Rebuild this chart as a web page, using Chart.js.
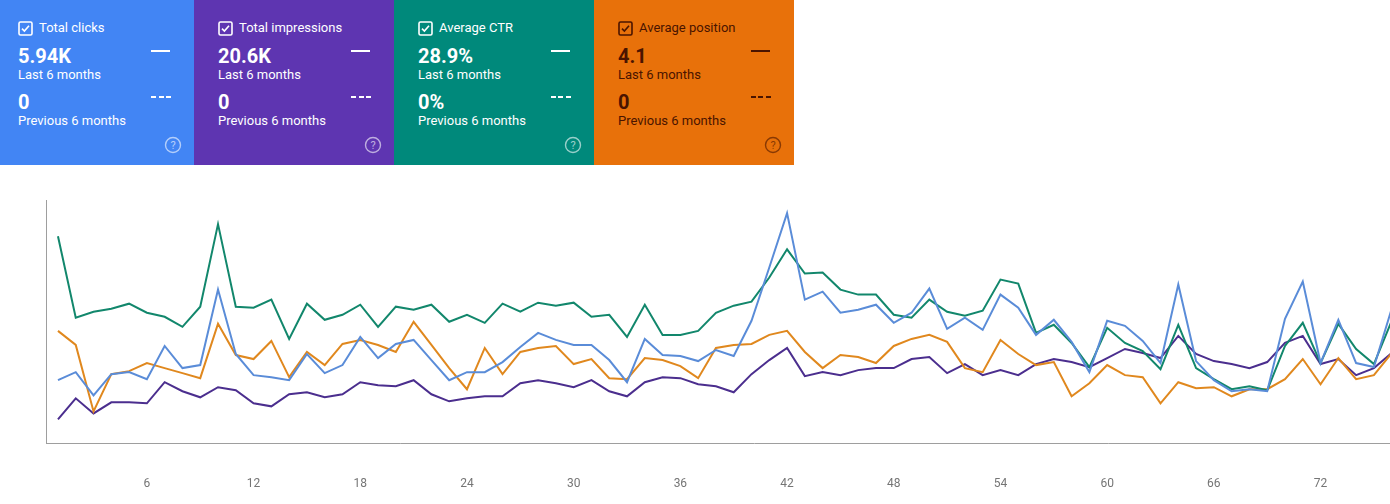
<!DOCTYPE html>
<html>
<head>
    <title>Performance</title>
    <script src="https://cdn.jsdelivr.net/npm/chart.js"></script>
    <style>
        body {
            margin: 0;
            width: 1390px;
            height: 504px;
            overflow: hidden;
            background: #fff;
            font-family: Roboto, Arial, sans-serif;
            position: relative;
        }
        .card {
            position: absolute;
            top: 0;
            width: 200px;
            height: 165px;
            color: #fff;
        }
        .card .title {
            position: absolute;
            left: 24px;
            top: 20px;
            font-size: 13px;
            line-height: 16px;
            display: flex;
            align-items: center;
            gap: 6px;
        }
        .card .title svg { display: block; }
        .card .big {
            position: absolute;
            left: 24px;
            font-size: 20px;
            font-weight: 700;
            line-height: 20px;
        }
        .card .small {
            position: absolute;
            left: 24px;
            font-size: 13px;
            line-height: 16px;
        }
        .card .solid {
            position: absolute;
            left: 157px;
            top: 50px;
            width: 19px;
            border-top: 2px solid currentColor;
        }
        .card .dashed {
            position: absolute;
            left: 157px;
            top: 96px;
            width: 20px;
            height: 2px;
            background: repeating-linear-gradient(to right, currentColor 0 5px, transparent 5px 7.5px);
        }
        .card .help {
            position: absolute;
            left: 170px;
            top: 136px;
            opacity: 0.6;
        }
        #wrap {
            position: absolute;
            left: 0;
            top: 180px;
            width: 1467px;
            height: 358px;
        }
    </style>
</head>
<body>
    <div id="cards"></div>
    <div id="wrap"><canvas id="perf"></canvas></div>
    <script>
        // days shown on the x axis
        var days = [];
        for (var d = 1; d <= 76; d++) days.push(d);
        var tickLabels = [6, 12, 18, 24, 30, 36, 42, 48, 54, 60, 66, 72, 78];

        // relative heights (no y scale is shown)
        var clicks = [63,71,48,69,71,64,97,75,78,153, 89,68,66,63,89,70,78,106,85,99,
            103,83,63,71,71,81,96,110,103,98, 98,83,61,104,88,87,82,93,87,122,
            175,229,143,151,130,133,138,120,130,154, 114,125,113,148,135,108,123,101,71,122,
            117,102,80,158,82,63,52,54,52,124, 161,80,123,80,76,134];
        var impressions = [24,45,30,41,41,40,61,52,46,56, 53,40,37,49,51,46,49,61,58,57,
            63,49,42,45,47,47,60,63,60,56, 63,52,47,61,66,65,59,57,51,69,
            83,95,67,71,68,73,75,75,84,86, 70,79,68,73,68,79,84,81,76,85,
            94,90,85,107,89,82,79,75,81,100, 107,79,84,68,75,90];
        var ctr = [206,125,131,134,139,130,126,116,136,218, 136,135,143,104,139,123,128,138,116,136,
            133,138,121,128,120,139,131,140,137,140, 126,128,106,138,108,108,112,130,137,141,
            165,193,169,170,153,148,148,128,125,143, 131,127,132,163,159,110,118,100,76,115,
            100,92,74,118,75,64,54,57,53,97, 120,80,119,94,79,122];
        var position = [112,98,32,69,72,80,75,70,65,119, 88,84,102,66,91,78,99,103,98,91,
            121,98,75,54,95,69,91,95,97,79, 84,65,64,85,83,77,65,95,98,99,
            108,112,91,75,88,86,80,97,104,108, 101,75,71,103,89,78,81,47,60,78,
            68,66,40,61,55,56,47,54,54,64, 84,59,85,64,68,90];

        // summary cards
        var cardTitles = ['Total clicks', 'Total impressions', 'Average CTR', 'Average position'];
        var cardValues = ['5.94K', '20.6K', '28.9%', '4.1'];
        var cardPrev = ['0', '0', '0%', '0'];
        var cardColors = ['#4285f4', '#5e35b1', '#00897b', '#e8710a'];
        var cardText = ['#fff', '#fff', '#fff', '#4a1400'];

        var html = '';
        for (var i = 0; i < cardTitles.length; i++) {
            var c = cardText[i];
            html += '<div class="card" style="left:' + (-6 + i * 200) + 'px;background:' + cardColors[i] + ';color:' + c + '">' +
                '<div class="title"><svg width="15" height="15" viewBox="0 0 15 15">' +
                '<rect x="1" y="1" width="13" height="13" rx="1.5" fill="none" stroke="' + c + '" stroke-width="1.6"/>' +
                '<path d="M4 7.6 L6.4 10 L11 4.8" fill="none" stroke="' + c + '" stroke-width="1.6"/></svg>' +
                '<span>' + cardTitles[i] + '</span></div>' +
                '<div class="big" style="top:46px">' + cardValues[i] + '</div>' +
                '<div class="small" style="top:67px">Last 6 months</div>' +
                '<div class="big" style="top:92px">' + cardPrev[i] + '</div>' +
                '<div class="small" style="top:113px">Previous 6 months</div>' +
                '<div class="solid"></div><div class="dashed"></div>' +
                '<svg class="help" width="18" height="18" viewBox="0 0 18 18">' +
                '<circle cx="9" cy="9" r="7.5" fill="none" stroke="' + c + '" stroke-width="1.4"/>' +
                '<text x="9" y="13" text-anchor="middle" font-size="11" font-family="Roboto" fill="' + c + '">?</text></svg>' +
                '</div>';
        }
        document.getElementById('cards').innerHTML = html;

        function points(arr) {
            return arr.map(function (v, k) { return {x: days[k], y: v}; });
        }

        var ctx = document.getElementById('perf').getContext('2d');
        var chart = new Chart(ctx, {
            type: 'line',
            data: {
                datasets: [
                    {label: 'Clicks', data: points(clicks), borderColor: '#5a8cd8'},
                    {label: 'CTR', data: points(ctr), borderColor: '#12876c'},
                    {label: 'Position', data: points(position), borderColor: '#e0881e'},
                    {label: 'Impressions', data: points(impressions), borderColor: '#4b2e8e'}
                ]
            },
            options: {
                responsive: true,
                maintainAspectRatio: false,
                animation: false,
                elements: {
                    line: {borderWidth: 2, tension: 0},
                    point: {radius: 0}
                },
                layout: {padding: {left: 46, top: 20, right: 0, bottom: 14}},
                plugins: {legend: {display: false}, tooltip: {enabled: false}},
                scales: {
                    x: {
                        type: 'linear',
                        min: 0.327,
                        max: 80,
                        afterBuildTicks: function (axis) {
                            axis.ticks = tickLabels.map(function (t) { return {value: t}; });
                        },
                        grid: {display: false, drawTicks: false},
                        border: {display: true, color: '#9e9e9e', width: 1},
                        ticks: {
                            color: '#757575',
                            padding: 33,
                            maxRotation: 0,
                            autoSkip: false,
                            font: {family: 'Roboto', size: 12}
                        }
                    },
                    y: {
                        min: 0,
                        max: 242,
                        grid: {display: false, drawTicks: false},
                        border: {display: true, color: '#9e9e9e', width: 1},
                        ticks: {display: false}
                    }
                }
            }
        });
    </script>
</body>
</html>
